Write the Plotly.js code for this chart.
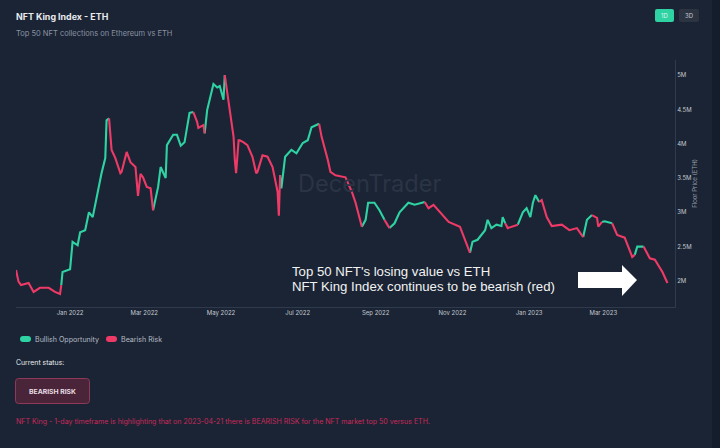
<!DOCTYPE html>
<html>
<head>
<meta charset="utf-8">
<script src="https://cdn.plot.ly/plotly-3.0.1.min.js"></script>
<style>
  html, body { margin: 0; padding: 0; background: #141d2b; overflow: hidden; }
  #chart { width: 712px; height: 448px; }
</style>
</head>
<body>
<div id="chart"></div>
<script>
// days since 2022-01-01
const dayOffsets = [
  -43,-41,-39,-33,-29,-24,-17,-12,-8,-7,
  -6,0,2,6,8,12,15,18,21,25,28,29,31,
  33,36,40,41,45,48,52,54,56,58,61,64,66,
  70,72,76,77,82,85,88,91,95,98,
  101,102,106,107,
  109,114,117,119,122,123,
  126,130,131,132,134,135,138,141,145,148,149,153,157,161,165,166,167,
  168,171,176,180,185,189,192,198,
  200,205,207,211,219,224,227,232,
  235,237,242,246,250,
  254,
  258,262,269,274,282,
  285,289,294,301,310,314,318,
  320,324,330,332,335,339,343,344,346,
  348,356,
  360,363,366,368,370,373,
  375,379,383,391,397,403,408,
  411,415,
  419,420,423,
  425,431,
  435,441,447,449,
  451,456,
  461,465,471,475
];
// floor price in million
const floorPrice = [
  2.16,1.99,1.94,1.97,1.84,1.90,1.90,1.84,1.81,1.94,
  2.13,2.17,2.57,2.52,2.71,2.74,3.00,2.93,3.21,3.57,3.79,4.34,4.37,
  3.91,3.79,3.57,3.59,3.88,3.73,3.66,3.24,3.56,3.51,3.37,3.35,3.03,
  3.37,3.66,3.50,3.98,4.13,4.13,3.97,4.02,4.45,4.46,
  4.32,4.23,4.27,4.15,
  4.49,4.87,4.82,4.84,4.64,5.00,
  4.64,4.10,3.76,3.57,4.05,4.05,4.02,3.98,3.81,3.57,3.59,3.83,3.81,3.66,3.30,2.95,3.54,
  3.35,3.81,3.91,3.86,4.01,4.05,4.24,4.29,
  4.10,3.76,3.59,3.54,3.51,3.30,3.14,2.79,
  2.89,3.14,3.14,3.03,2.89,
  2.77,
  2.84,3.00,3.14,3.11,3.15,
  3.06,3.11,3.00,2.86,2.79,2.60,2.41,
  2.57,2.60,2.74,2.89,2.77,2.82,2.80,2.93,2.84,
  2.77,2.82,
  3.00,3.06,2.93,3.14,3.25,3.15,
  3.18,2.93,2.80,2.82,2.74,2.77,2.64,
  2.89,2.96,
  2.92,2.79,2.86,
  2.87,2.84,
  2.67,2.63,2.35,2.38,
  2.50,2.50,
  2.33,2.31,2.13,1.97
];
// length of each run, starting bearish and alternating
const runLengths = [10,13,13,10,4,6,17,8,8,5,1,5,7,9,2,6,7,2,3,2,4,2,4];

const yTickVals = [2, 2.5, 3, 3.5, 4, 4.5, 5];
const yTickLabels = ['2M', '2.5M', '3M', '3.5M', '4M', '4.5M', '5M'];

const GREEN = '#2fd3a3';
const RED = '#ee3a66';
const BG = '#1a2434';

const W = 712, H = 448;
const L = 16, R = 675, T = 60, B = 307;
const px = x => (x - L) / (R - L);
const py = y => (B - y) / (B - T);

function toDate(d) {
    return new Date(Date.UTC(2022, 0, 1) + d * 86400000).toISOString().slice(0, 10);
}

// split into two traces, every run starts from the last point of the one before
let bull = {x: [], y: []};
let bear = {x: [], y: []};
let start = 0;
runLengths.forEach((len, r) => {
    let target = r % 2 == 0 ? bear : bull;
    let from = Math.max(start - 1, 0);
    for (let i = from; i < start + len; i++) {
        target.x.push(toDate(dayOffsets[i]));
        target.y.push(floorPrice[i]);
    }
    target.x.push(null);
    target.y.push(null);
    start += len;
});

const traces = [
    {x: bull.x, y: bull.y, mode: 'lines', name: 'Bullish Opportunity', line: {color: GREEN, width: 2.1}},
    {x: bear.x, y: bear.y, mode: 'lines', name: 'Bearish Risk', line: {color: RED, width: 2.1}},
];

function label(text, x, y, size, color, opts={}) {
    // annotation boxes pad their text by about 2px, left anchored ones are pulled back
    let left = !opts.xanchor;
    return Object.assign({
        text: text, x: px(left ? x - 2 : x), y: py(y), xref: 'paper', yref: 'paper',
        xanchor: 'left', yanchor: 'middle', showarrow: false,
        font: {family: 'Inter', size: size, color: color},
    }, opts);
}

function pill(x0, y0, x1, y1, r, fill, line) {
    let a = px(x0), b = px(x1), c = py(y0), d = py(y1);
    let rx = r / (R - L), ry = r / (B - T);
    let path = `M${a + rx},${c} L${b - rx},${c} Q${b},${c} ${b},${c - ry} L${b},${d + ry} Q${b},${d} ${b - rx},${d}` +
               ` L${a + rx},${d} Q${a},${d} ${a},${d + ry} L${a},${c - ry} Q${a},${c} ${a + rx},${c} Z`;
    return {type: 'path', path: path, xref: 'paper', yref: 'paper', fillcolor: fill,
            line: line ? {color: line, width: 1} : {width: 0}};
}

function poly(points, fill) {
    let path = points.map((p, i) => `${i ? 'L' : 'M'}${px(p[0])},${py(p[1])}`).join(' ') + ' Z';
    return {type: 'path', path: path, xref: 'paper', yref: 'paper', fillcolor: fill, line: {width: 0}};
}

const noteFont = {family: 'Liberation Sans', size: 13.2, color: '#f2f2f2'};

const layout = {
    width: W, height: H,
    margin: {l: L, r: W - R, t: T, b: H - B},
    paper_bgcolor: BG, plot_bgcolor: BG,
    showlegend: false,
    xaxis: {
        type: 'date', range: [toDate(-43), toDate(481)],
        tick0: '2022-01-01', dtick: 'M2', tickformat: '%b %Y',
        showgrid: false, zeroline: false, showline: true, linecolor: '#2f3a4c', linewidth: 1,
        ticks: '', tickfont: {family: 'Inter', size: 6, color: '#c3c8d0'},
    },
    yaxis: {
        side: 'right', range: [1.62, 5.22],
        tickvals: yTickVals, ticktext: yTickLabels,
        showgrid: false, zeroline: false, showline: true, linecolor: '#2f3a4c', linewidth: 1,
        ticks: '', tickfont: {family: 'Inter', size: 6, color: '#c3c8d0'},
        title: {text: 'Floor Price (ETH)', standoff: 0, font: {family: 'Inter', size: 6, color: '#9aa2ae'}},
    },
    shapes: [
        pill(655, 9, 674, 22, 2, GREEN),
        pill(679, 9, 699, 22, 2, '#2c3442'),
        pill(20, 336, 31, 342, 3, GREEN),
        pill(106, 336, 117, 342, 3, RED),
        pill(15.5, 378.5, 89.5, 403.5, 3, '#4a2439', '#8f3857'),
        poly([[578, 272], [622, 272], [622, 265], [637, 280], [622, 296], [622, 288], [578, 288]], '#ffffff'),
    ],
    annotations: [
        label('<b>NFT King Index - ETH</b>', 16, 16, 8.9, '#e8eaee'),
        label('Top 50 NFT collections on Ethereum vs ETH', 16, 34, 7.5, '#8a93a3'),
        label('1D', 664.5, 15.5, 6, '#d8f5ec', {xanchor: 'center'}),
        label('3D', 689, 15.5, 6, '#c3c8d0', {xanchor: 'center'}),
        label('DecenTrader', 298, 183, 23.6, '#2a3444'),
        label("Top 50 NFT's losing value vs ETH", 292, 271.5, 13.2, '#f2f2f2', {font: noteFont}),
        label('NFT King Index continues to be bearish (red)', 292, 286.5, 13.2, '#f2f2f2', {font: noteFont}),
        label('Bullish Opportunity', 35, 339, 7.1, '#b6bcc6'),
        label('Bearish Risk', 121, 339, 7.1, '#b6bcc6'),
        label('Current status:', 16, 362, 6.9, '#e8eaee'),
        label('<b>BEARISH RISK</b>', 52.5, 391, 6.8, '#e8dfe3', {xanchor: 'center'}),
        label('NFT King - 1-day timeframe is highlighting that on 2023-04-21 there is BEARISH RISK for the NFT market top 50 versus ETH.', 16, 421, 7.05, '#c9295a'),
    ],
};

Plotly.newPlot('chart', traces, layout, {displayModeBar: false, staticPlot: true});
</script>
</body>
</html>
